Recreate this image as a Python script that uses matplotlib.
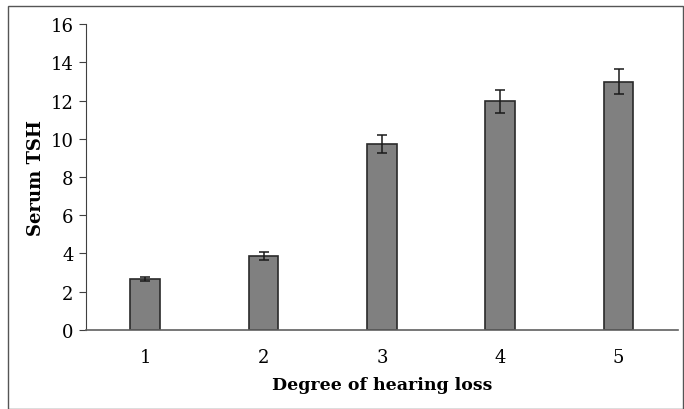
import numpy as np
import matplotlib
matplotlib.use('Agg')
import matplotlib.pyplot as plt
from matplotlib.patches import Rectangle

# Data
degrees = ['1', '2', '3', '4', '5']
tsh_mean = [2.67, 3.87, 9.72, 11.97, 12.98]
tsh_err = [0.12, 0.19, 0.49, 0.60, 0.66]

plt.rcParams['font.family'] = ['DejaVu Serif']

fig = plt.figure(figsize=(6.84, 4.10), dpi=100)
ax = fig.add_axes([0.1257, 0.1927, 0.8653, 0.7463])

x = np.arange(len(degrees))
ax.bar(x, tsh_mean, width=0.25, color='#808080', edgecolor='#2a2a2a', linewidth=1.2,
       yerr=tsh_err, capsize=3.5, error_kw=dict(ecolor='#1a1a1a', elinewidth=1.1, capthick=1.1))

ax.set_xlim(-0.5, len(degrees) - 0.5)
ax.set_ylim(0, 16)
ax.set_yticks(range(0, 17, 2))
ax.set_xticks(x)
ax.set_xticklabels(degrees)

for side in ['top', 'right']:
    ax.spines[side].set_visible(False)
ax.spines['left'].set_color('#404040')
ax.spines['bottom'].set_color('#606060')
ax.spines['bottom'].set_linewidth(1.2)

ax.tick_params(axis='y', direction='out', length=5, color='#404040', labelsize=13, pad=4)
ax.tick_params(axis='x', length=0, labelsize=13, pad=13)

ax.set_xlabel('Degree of hearing loss', fontsize=12.5, fontweight='bold', labelpad=7)
ax.set_ylabel('Serum TSH', fontsize=13, fontweight='bold', labelpad=4)

# outer frame around the whole figure
fig.patches.append(Rectangle((8 / 684, 0), 675 / 684, 403 / 410, transform=fig.transFigure,
                             fill=False, edgecolor='#555555', linewidth=1.0))

fig.savefig('out.png', dpi=100)
